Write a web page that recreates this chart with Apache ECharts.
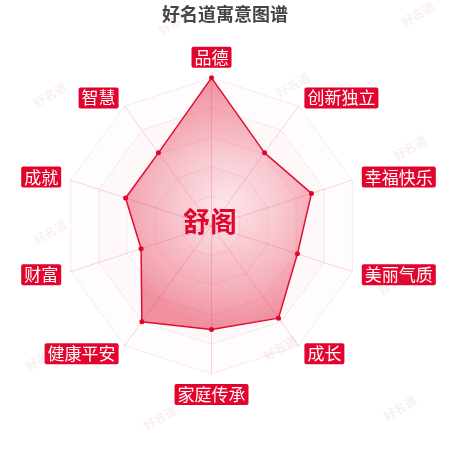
<!DOCTYPE html>
<html><head><meta charset="utf-8">
<script src="https://cdn.jsdelivr.net/npm/echarts@6/dist/echarts.min.js"></script>
<style>html,body{margin:0;padding:0;background:#fff}#c{width:450px;height:450px}</style>
</head><body><div id="c"></div>
<script>
// clockwise from top
const indicators = ['品德','创新独立','幸福快乐','美丽气质','成长','家庭传承','健康平安','财富','成就','智慧'];
const values = [100, 61, 71, 61, 77, 70, 80, 50, 61, 61];
const maxValue = 100;
const titleText = '好名道寓意图谱';
const nameText = '舒阁';
const watermarkText = '好名道';
const watermarkSpots = [[50,95],[175,22],[418,14],[293,85],[410,148],[50,232],[395,282],[42,358],[280,348],[160,418],[400,408]];

// ECharts radar runs counter-clockwise: keep the first, reverse the rest
const order = [0].concat(indicators.map((_, i) => i).slice(1).reverse());
const ccwIndicators = order.map(i => indicators[i]);
const ccwValues = order.map(i => values[i]);

const chart = echarts.init(document.getElementById('c'));
const font = '"Noto Sans CJK SC", sans-serif';
chart.setOption({
  backgroundColor: '#fff',
  title: {
    text: titleText, left: 'center', top: 0,
    textStyle: { fontSize: 18, fontWeight: 'bold', color: '#444', fontFamily: font }
  },
  graphic: watermarkSpots.map(p => ({
    type: 'text', x: p[0], y: p[1], rotation: Math.PI / 6, z: 100,
    style: { text: watermarkText, fill: 'rgba(200,120,130,0.12)', font: 'bold 12px ' + font, textAlign: 'center', textVerticalAlign: 'middle' }
  })).concat([{
    type: 'text', x: 210, y: 222, z: 100,
    style: { text: nameText, fill: '#e0062e', font: 'bold 27px ' + font, textAlign: 'center', textVerticalAlign: 'middle' }
  }]),
  radar: {
    center: ['47%', '50.2%'],
    radius: '65.8%',
    startAngle: 90,
    splitNumber: 5,
    shape: 'polygon',
    indicator: ccwIndicators.map(n => ({ name: n, max: maxValue })),
    axisName: {
      color: '#fff', backgroundColor: '#e3042d', borderRadius: 2,
      padding: [2, 3], fontSize: 17, fontFamily: font
    },
    nameGap: 10,
    axisLine: { lineStyle: { color: 'rgba(230,60,90,0.22)', width: 1 } },
    splitLine: { lineStyle: { color: 'rgba(220,120,140,0.3)', type: 'dotted', width: 1 } },
    splitArea: { areaStyle: { color: ['rgba(240,170,180,0.03)', 'rgba(240,170,180,0.08)'] } }
  },
  series: [{
    type: 'radar',
    symbol: 'circle', symbolSize: 5,
    itemStyle: { color: '#e3042d' },
    lineStyle: { color: '#e3042d', width: 1.5 },
    areaStyle: {
      color: new echarts.graphic.RadialGradient(0.55, 0.5, 0.65, [
        { offset: 0, color: 'rgba(235,90,115,0.18)' },
        { offset: 1, color: 'rgba(225,30,60,0.68)' }
      ])
    },
    data: [{ value: ccwValues, name: nameText }]
  }]
});
</script></body></html>
